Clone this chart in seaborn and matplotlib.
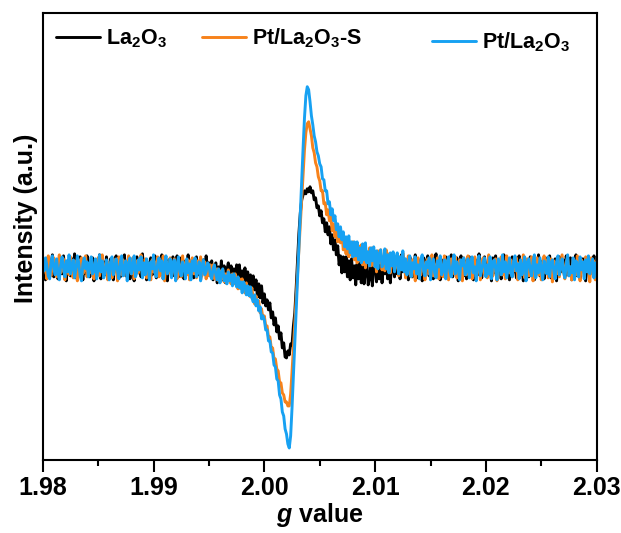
import numpy as np
import pandas as pd
import matplotlib
matplotlib.use("Agg")
import matplotlib.pyplot as plt
from matplotlib.ticker import MultipleLocator, FormatStrFormatter
import seaborn as sns

# g-value sweep of the EPR spectra
g_value = np.linspace(1.98, 2.03, 401)

# Intensity (a.u.), baseline at 0
la2o3 = [
    8, -4, -12, 5, 11, -7, 2, 13, -9, -1,
    6, -11, 10, 3, -6, 12, -2, -13, 7, 1,
    -8, 9, -3, 14, -10, 4, -5, 11, 0, -12,
    7, -6, 12, -1, -9, 5, 10, -13, 3, 8,
    -4, 13, -11, 2, 6, -7, 11, -2, -10, 9,
    1, -12, 7, 12, -5, 4, -9, 10, -3, 13,
    -8, 3, 9, -11, 6, -1, -13, 8, 11, -5,
    2, -9, 14, -4, 7, -12, 5, 0, 10, -7,
    -2, 12, -10, 4, 9, -6, 13, -11, 1, 6,
    -13, 8, 3, -5, 11, -8, 0, 12, -9, 5,
    10, -3, -11, 7, 2, 13, -6, -1, 9, -10,
    4, 11, -7, 6, -12, 3, 8, -5, 12, -2,
    5, -8, 7, -12, 1, 5, -15, 1, -10, 7,
    -12, 2, -15, -2, 5, -9, 2, -15, -1, -13,
    3, -10, 3, -16, -3, -16, 0, -16, -4, -20,
    -7, -22, -8, -22, -12, -29, -16, -30, -18, -35,
    -26, -38, -32, -42, -35, -50, -44, -57, -50, -64,
    -58, -71, -65, -80, -75, -89, -90, -83, -87, -76,
    -77, -58, -45, -20, 8, 35, 55, 68, 73, 77,
    74, 79, 76, 81, 75, 77, 68, 70, 60, 62,
    52,
    57, 45, 49, 36, 45, 33, 41, 24, 33, 18,
    28, 13, 22, 3, 12, -5, 11, -4, 11, -9,
    7, -12, 9, -10, 2, -17, 4, -11, 6, -15,
    3, -16, -4, 6, -17, -10, 4, -18, 2, 7,
    -14, 1, -11, 9, -15, 5, -6, 8, -11, 4,
    -15, 7, 1, -9, 10, -6, 6, -11, 13, -4,
    9, -7, 3, -12, 11, 5, -9, 1, 13, -5,
    -10, 7, 2, -13, 10, -3, 6, 12, -8, -1,
    4, -11, 9, 14, -6, 0, -12, 8, 3, -7,
    11, -4, -10, 6, 13, -9, 2, -5, 10, -13,
    5, 12, -2, -8, 7, -11, 1, 11, -6, 4,
    -12, 9, 3, -7, 14, -3, -10, 6, 11, -1,
    -9, 8, 2, -13, 10, -5, 12, -8, 0, 7,
    -11, 4, 13, -6, 9, -2, -12, 5, 11, -4,
    2, -10, 8, 12, -7, 3, -13, 10, -1, 6,
    -9, 11, 4, -5, -12, 9, 1, 13, -8, -3,
    7, -11, 10, 2, -6, 12, -10, 5, -2, 9,
    -13, 6, 11, -4, 0, 8, -9, 12, -7, 3,
    10, -12, 5, -1, 13, -8, 4, -11, 7, 9,
    -5, -13, 2, 11, -7, 8, -3, 12, -9, 6,
]
pt_la2o3_s = [
    -6, 8, 1, -11, 12, -3, -8, 5, 10, -2,
    -9, 4, 13, -5, -1, 9, -12, 6, 2, -7,
    11, -4, -10, 7, 3, -13, 8, -1, 10, -6,
    -2, 12, -9, 4, -5, 9, 1, -11, 6, -3,
    10, -8, 3, 13, -6, -1, 7, -12, 5, 2,
    -10, 9, -4, 6, -13, 11, 0, -7, 8, -3,
    4, -9, 12, -2, -6, 10, -11, 3, 7, -5,
    1, 13, -8, -3, 9, -10, 5, 2, -12, 8,
    -4, 6, -1, 11, -9, 3, -6, 12, -13, 7,
    2, -5, 10, -8, -2, 9, 4, -11, 6, 0,
    -9, 12, -3, 5, -7, 8, -12, 1, 10, -6,
    3, -10, 7, -4, 11, -8, -1, 6, -11, 4,
    -8, 3, -7, 3, -11, -3, -1, -13, -3, -11,
    -2, -14, -6, -14, -2, -12, -16, -6, -16, -6,
    -16, -21, -11, -21, -11, -20, -25, -15, -25, -19,
    -29, -20, -31, -36, -28, -37, -33, -45, -41, -51,
    -48, -58, -58, -69, -69, -80, -80, -91, -91, -101,
    -103, -114, -115, -125, -127, -134, -134, -138, -138, -126,
    -104, -80, -55, -30, -5, 20, 45, 70, 95, 118,
    135, 144, 146, 139, 132, 120, 115, 105, 101, 91,
    87,
    77, 77, 64, 65, 53, 58, 47, 51, 37, 44,
    31, 40, 26, 37, 25, 35, 18, 29, 14, 28,
    11, 25, 13, 26, 8, 19, 5, 22, 7, 23,
    3, 19, 0, 16, 7, 20, 2, 20, 2, 15,
    -4, 17, 5, 18, -2, 11, -3, 18, 0, 14,
    -5, 11, 15, -3, 3, 13, -8, 11, -1, 15,
    7, -10, 2, 12, -5, -9, 8, 1, -13, 6,
    10, -3, -7, 11, 4, -12, 5, 9, -6, -1,
    13, -8, 3, -4, 10, -11, 6, 0, -9, 12,
    -2, 7, -12, 4, 9, -6, 1, 11, -10, 3,
    8, -5, -13, 10, 2, -7, 12, -3, 5, -11,
    6, 11, -9, -1, 8, -12, 4, 10, -6, 1,
    -10, 13, -4, 7, -8, 2, 9, -13, 5, -2,
    11, -7, 3, -11, 12, 0, -5, 8, -9, 6,
    -3, 10, -12, 4, 7, -6, 13, -10, 1, 9,
    -8, 5, 11, -13, 2, -4, 10, -7, 6, -12,
    3, 12, -5, 8, -10, 0, 9, -14, 7, 4,
    -6, 11, -9, 2, 13, -3, -11, 6, 10, -8,
    1, -12, 9, 5, -7, 12, -4, -13, 8, 3,
    -9, 11, -2, 6, -14, 10, -5, 7, -12, 4,
]
pt_la2o3 = [
    4, -3, 10, 2, -8, -11, 6, 12, -1, -7,
    9, -5, -12, 3, 11, 0, -9, 7, -4, 13,
    -6, 2, 8, -10, -2, 12, 5, -8, -13, 4,
    10, -1, 6, -9, 3, 11, -6, -3, 9, -11,
    1, 13, -4, 7, -10, -5, 8, 2, -12, 6,
    11, -7, 0, 9, -3, -11, 5, 12, -8, -2,
    7, -13, 3, 10, -6, 1, 12, -9, -4, 8,
    -2, 11, -10, 5, -7, 9, 3, -12, 6, -1,
    13, -5, -9, 4, 10, -3, 7, -11, 2, 12,
    -6, -1, 9, -10, 5, 8, -13, 3, 11, -4,
    -8, 6, 1, -11, 9, -5, 4, -12, 7, -3,
    10, -9, -2, 6, -13, 2, 8, -7, -4, 5,
    3, -7, -11, -1, 3, -7, -12, -1, -15, -5,
    -1, -13, -8, -16, -4, -13, -7, -18, -6, -14,
    -19, -9, -20, -14, -25, -14, -18, -27, -18, -28,
    -19, -30, -34, -27, -38, -32, -43, -39, -51, -48,
    -52, -62, -62, -73, -73, -84, -85, -97, -99, -111,
    -113, -127, -131, -144, -148, -161, -166, -176, -180, -168,
    -140, -108, -75, -42, -10, 22, 55, 88, 120, 150,
    172, 181, 178, 166, 152, 143, 132, 126, 116, 112,
    104,
    101, 89, 88, 77, 77, 64, 66, 53, 59, 47,
    52, 38, 44, 31, 41, 28, 36, 21, 31, 19,
    32, 15, 26, 11, 26, 12, 26, 8, 20, 5,
    24, 8, 25, 5, 16, 2, 20, 7, 21, 1,
    17, -1, 14, 18, 1, 5, 19, -1, 13, -5,
    15, 2, 16, -4, 10, 15, -6, 11, -2, 17,
    -4, 9, -7, 2, 12, -9, 5, -1, 11, -6,
    3, -11, 8, 13, -3, -8, 6, 0, 10, -12,
    4, 9, -5, -10, 7, 1, 12, -7, -2, 8,
    -11, 5, 11, -4, -9, 3, 13, -6, 6, -1,
    -12, 8, 2, 10, -7, -3, 9, -10, 4, 11,
    -5, 1, -13, 7, 12, -8, -2, 6, 10, -9,
    3, -6, 11, -11, 5, 8, -1, -12, 9, 2,
    -7, 13, -4, 6, -10, 0, 10, -5, -9, 7,
    12, -3, 4, -11, 8, -7, 1, 11, -13, 5,
    9, -2, -8, 6, 13, -10, 3, -5, 10, -1,
    -12, 7, 2, -6, 11, -9, 5, 8, -3, -11,
    6, 12, -7, 0, 9, -4, -10, 4, 13, -8,
    1, -5, 10, -12, 7, 3, -9, 11, -2, 6,
    -11, 8, -4, 12, -6, 2, 9, -10, 5, -3,
]
for series in (la2o3, pt_la2o3_s, pt_la2o3):
    assert len(series) == len(g_value), len(series)

samples = [r"La$_{2}$O$_{3}$", r"Pt/La$_{2}$O$_{3}$-S", r"Pt/La$_{2}$O$_{3}$"]
colors = ["#000000", "#f7821b", "#17a1f2"]
xticks = [1.98, 1.99, 2.00, 2.01, 2.02, 2.03]

sns.set_style("ticks")
plt.rcParams["font.family"] = ["Liberation Sans", "DejaVu Sans"]
plt.rcParams["font.weight"] = "bold"
plt.rcParams["text.color"] = "black"
plt.rcParams["axes.labelcolor"] = "black"
plt.rcParams["xtick.color"] = "black"
plt.rcParams["mathtext.fontset"] = "custom"
plt.rcParams["mathtext.rm"] = "Liberation Sans:bold"
plt.rcParams["mathtext.bf"] = "Liberation Sans:bold"
plt.rcParams["mathtext.it"] = "Liberation Sans:italic:bold"

df = pd.DataFrame({
    "g": np.tile(g_value, 3),
    "intensity": la2o3 + pt_la2o3_s + pt_la2o3,
    "sample": np.repeat(samples, len(g_value)),
})

fig = plt.figure(figsize=(6.21, 5.33), dpi=100)
ax = fig.add_axes([0.0688, 0.137, 0.8921, 0.8392])

sns.lineplot(data=df, x="g", y="intensity", hue="sample", hue_order=samples,
             palette=colors, linewidth=2.1, estimator=None, errorbar=None,
             sort=False, ax=ax)

ax.set_xlim(1.98, 2.03)
ax.set_ylim(-192, 255)
ax.set_xticks(xticks)
ax.xaxis.set_major_formatter(FormatStrFormatter("%.2f"))
ax.xaxis.set_minor_locator(MultipleLocator(0.005))
ax.set_yticks([])
ax.tick_params(axis="x", which="major", direction="out", length=8.6, width=1.5,
               labelsize=18, pad=3, colors="black")
ax.tick_params(axis="x", which="minor", direction="out", length=4.3, width=1.5,
               colors="black")
for sp in ax.spines.values():
    sp.set_visible(True)
    sp.set_linewidth(1.5)
    sp.set_color("black")

ax.set_xlabel(r"$g$ value", fontsize=18, fontweight="bold", labelpad=1)
ax.set_ylabel("Intensity (a.u.)", fontsize=18, fontweight="bold")
ax.yaxis.set_label_coords(-0.008, 0.54)

handles, labels = ax.get_legend_handles_labels()
ax.get_legend().remove()
leg_kw = dict(frameon=False, fontsize=15.5, handlelength=2.05, handletextpad=0.28,
              borderpad=0, borderaxespad=0, loc="center left")
leg1 = ax.legend(handles[:2], labels[:2], ncol=2, columnspacing=1.63,
                 bbox_to_anchor=(0.0231, 0.9435), **leg_kw)
ax.add_artist(leg1)
ax.legend(handles[2:], labels[2:], bbox_to_anchor=(0.7027, 0.9345), **leg_kw)

fig.savefig("out.png", dpi=100)
